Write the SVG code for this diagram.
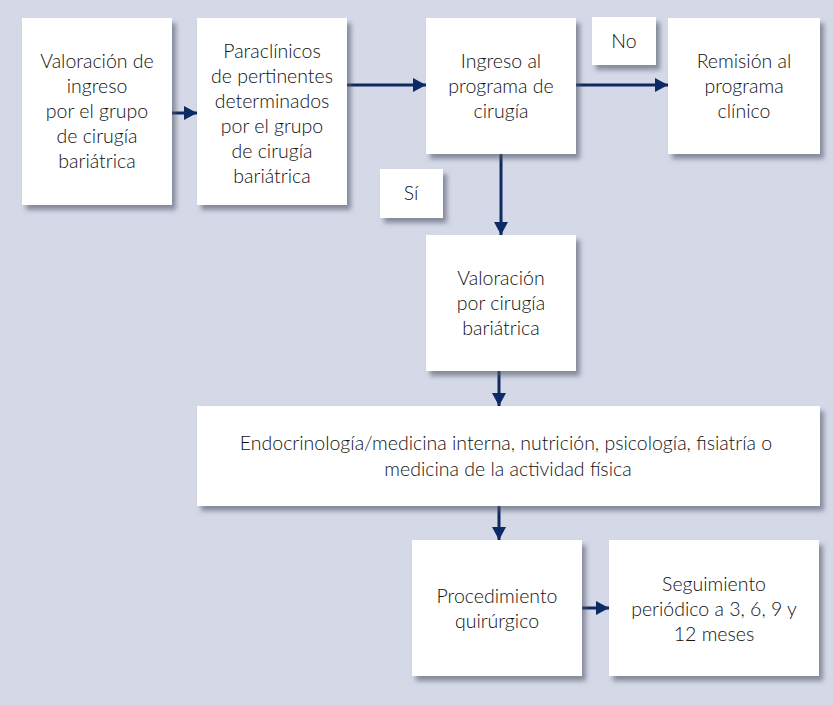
<svg xmlns="http://www.w3.org/2000/svg" width="833" height="705" viewBox="0 0 833 705">
  <defs>
    <filter id="shadow" x="-10%" y="-10%" width="130%" height="130%">
      <feDropShadow dx="4" dy="5" stdDeviation="2.5" flood-color="#4f5469" flood-opacity="0.6"/>
    </filter>
    <marker id="arrow" markerUnits="userSpaceOnUse" markerWidth="14" markerHeight="14" refX="13" refY="7" orient="auto">
      <path d="M0,0 L13,7 L0,14 Z" fill="#0c2a63"/>
    </marker>
  </defs>
  <style>
    .box { fill: #ffffff; filter: url(#shadow); }
    .lbl { font-family: Lato, "Liberation Sans", sans-serif; font-weight: 300; font-size: 19.5px; fill: #111111; text-anchor: middle; }
    .edge { stroke: #0c2a63; stroke-width: 3; fill: none; }
  </style>

  <rect x="0" y="0" width="833" height="705" fill="#d5d9e7"/>

  <!-- connectors -->
  <g id="connectors">
    <line class="edge" x1="172" y1="113" x2="197" y2="113" marker-end="url(#arrow)"/>
    <line class="edge" x1="347" y1="85" x2="426" y2="85" marker-end="url(#arrow)"/>
    <line class="edge" x1="576" y1="85" x2="668" y2="85" marker-end="url(#arrow)"/>
    <line class="edge" x1="501" y1="154" x2="501" y2="235" marker-end="url(#arrow)"/>
    <line class="edge" x1="499" y1="371" x2="499" y2="406" marker-end="url(#arrow)"/>
    <line class="edge" x1="499" y1="506" x2="499" y2="540" marker-end="url(#arrow)"/>
    <line class="edge" x1="582" y1="608" x2="609" y2="608" marker-end="url(#arrow)"/>
  </g>

  <g id="valoracion-ingreso">
    <rect class="box" x="22" y="18" width="150" height="187"/>
    <text class="lbl" x="97" y="68">Valoración de</text>
    <text class="lbl" x="97" y="93">ingreso</text>
    <text class="lbl" x="97" y="118">por el grupo</text>
    <text class="lbl" x="97" y="143">de cirugía</text>
    <text class="lbl" x="97" y="168">bariátrica</text>
  </g>

  <g id="paraclinicos">
    <rect class="box" x="197" y="18" width="150" height="187"/>
    <text class="lbl" x="272" y="58">Paraclínicos</text>
    <text class="lbl" x="272" y="83">de pertinentes</text>
    <text class="lbl" x="272" y="108">determinados</text>
    <text class="lbl" x="272" y="133">por el grupo</text>
    <text class="lbl" x="272" y="158">de cirugía</text>
    <text class="lbl" x="272" y="183">bariátrica</text>
  </g>

  <g id="ingreso-programa">
    <rect class="box" x="426" y="18" width="150" height="136"/>
    <text class="lbl" x="501" y="68">Ingreso al</text>
    <text class="lbl" x="501" y="93">programa de</text>
    <text class="lbl" x="501" y="118">cirugía</text>
  </g>

  <g id="label-no">
    <rect class="box" x="592" y="17" width="64" height="48"/>
    <text class="lbl" x="624" y="48">No</text>
  </g>

  <g id="remision">
    <rect class="box" x="668" y="18" width="152" height="136"/>
    <text class="lbl" x="744" y="68">Remisión al</text>
    <text class="lbl" x="744" y="93">programa</text>
    <text class="lbl" x="744" y="118">clínico</text>
  </g>

  <g id="label-si">
    <rect class="box" x="380" y="169" width="63" height="49"/>
    <text class="lbl" x="411" y="200">Sí</text>
  </g>

  <g id="valoracion-cirugia">
    <rect class="box" x="426" y="235" width="150" height="136"/>
    <text class="lbl" x="501" y="285">Valoración</text>
    <text class="lbl" x="501" y="310">por cirugía</text>
    <text class="lbl" x="501" y="335">bariátrica</text>
  </g>

  <g id="especialidades">
    <rect class="box" x="197" y="406" width="623" height="100"/>
    <text class="lbl" x="506" y="450">Endocrinología/medicina interna, nutrición, psicología, fisiatría o</text>
    <text class="lbl" x="508" y="476">medicina de la actividad física</text>
  </g>

  <g id="procedimiento">
    <rect class="box" x="412" y="540" width="170" height="136"/>
    <text class="lbl" x="497" y="603">Procedimiento</text>
    <text class="lbl" x="497" y="628">quirúrgico</text>
  </g>

  <g id="seguimiento">
    <rect class="box" x="609" y="540" width="210" height="136"/>
    <text class="lbl" x="714" y="591">Seguimiento</text>
    <text class="lbl" x="714" y="616">periódico a 3, 6, 9 y</text>
    <text class="lbl" x="714" y="641">12 meses</text>
  </g>
</svg>
